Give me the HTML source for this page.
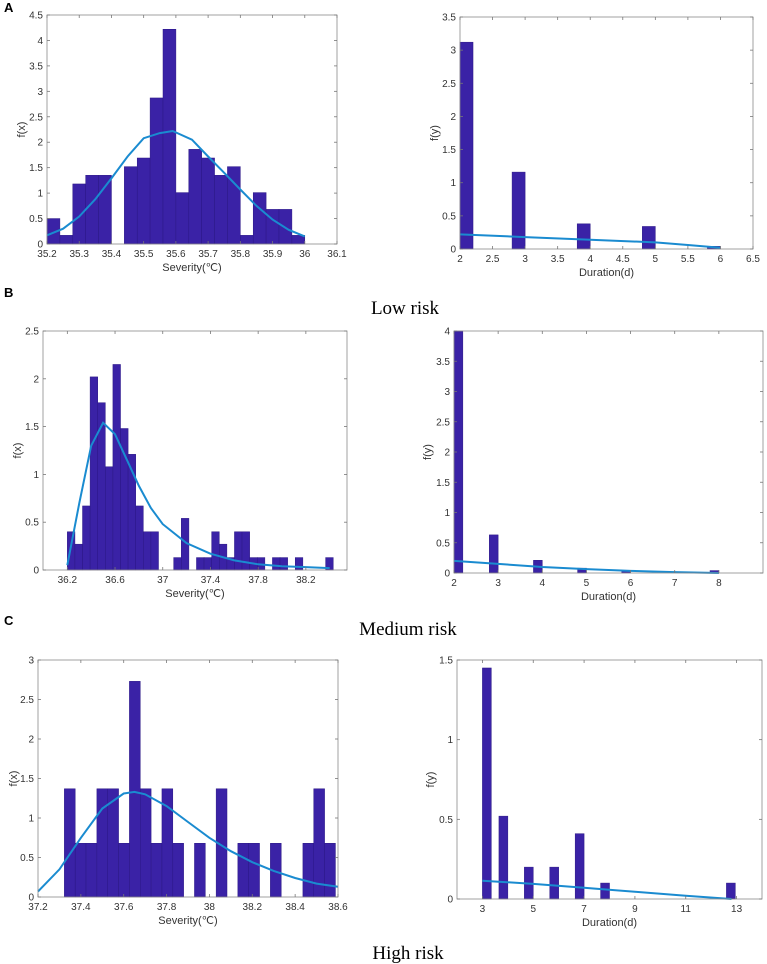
<!DOCTYPE html>
<html><head><meta charset="utf-8">
<style>
html,body{margin:0;padding:0;background:#fff;}
svg{display:block;}
text{font-family:"Liberation Sans",sans-serif;}
</style></head>
<body>
<svg id="fig" width="767" height="964" viewBox="0 0 767 964" xmlns="http://www.w3.org/2000/svg">
<text x="4" y="12" font-size="13" font-weight="bold" fill="#000">A</text>
<text x="4" y="297" font-size="13" font-weight="bold" fill="#000">B</text>
<text x="4" y="625" font-size="13" font-weight="bold" fill="#000">C</text>
<text x="405" y="314" font-size="19" text-anchor="middle" style="font-family:'Liberation Serif',serif">Low risk</text>
<text x="408" y="635" font-size="19" text-anchor="middle" style="font-family:'Liberation Serif',serif">Medium risk</text>
<text x="408" y="959" font-size="19" text-anchor="middle" style="font-family:'Liberation Serif',serif">High risk</text>
</svg>
<script>
// ---- Panel A left (Low risk severity) ----
const aSevXTicks = [35.2,35.3,35.4,35.5,35.6,35.7,35.8,35.9,36,36.1];
const aSevYTicks = [0,0.5,1,1.5,2,2.5,3,3.5,4,4.5];
const aSevBinStart = [35.2];
const aSevBinWidth = [0.04];
const aSevHeights = [0.5,0.17,1.18,1.35,1.35,0,1.52,1.69,2.87,4.22,1.01,1.86,1.69,1.35,1.52,0.17,1.01,0.68,0.68,0.17];
const aSevCurveX = [35.2,35.25,35.3,35.35,35.4,35.45,35.5,35.55,35.59,35.65,35.7,35.75,35.8,35.85,35.9,35.95,36.0];
const aSevCurveY = [0.17,0.3,0.54,0.88,1.29,1.72,2.08,2.18,2.22,2.05,1.72,1.4,1.07,0.75,0.48,0.28,0.15];
// ---- Panel A right (Low risk duration) ----
const aDurXTicks = [2,2.5,3,3.5,4,4.5,5,5.5,6,6.5];
const aDurYTicks = [0,0.5,1,1.5,2,2.5,3,3.5];
const aDurLefts = [2,2.8,3.8,4.8,5.8];
const aDurWidth = [0.2];
const aDurHeights = [3.12,1.16,0.38,0.34,0.04];
const aDurCurveX = [2,3,4,5,5.5,6];
const aDurCurveY = [0.22,0.18,0.14,0.1,0.06,0.02];
// ---- Panel B left (Medium risk severity) ----
const bSevXTicks = [36.2,36.6,37,37.4,37.8,38.2];
const bSevYTicks = [0,0.5,1,1.5,2,2.5];
const bSevBinStart = [36.2];
const bSevBinWidth = [0.0637];
const bSevHeights = [0.4,0.27,0.67,2.02,1.75,1.08,2.15,1.48,1.21,0.67,0.4,0.4,0,0,0.13,0.54,0,0.13,0.13,0.4,0.27,0.13,0.4,0.4,0.13,0.13,0,0.13,0.13,0,0.13,0,0,0,0.13];
const bSevCurveX = [36.2,36.3,36.4,36.5,36.6,36.7,36.8,36.9,37.0,37.2,37.4,37.6,37.8,38.0,38.2,38.4];
const bSevCurveY = [0.05,0.7,1.3,1.54,1.42,1.15,0.88,0.65,0.48,0.28,0.17,0.1,0.06,0.04,0.03,0.02];
// ---- Panel B right (Medium risk duration) ----
const bDurXTicks = [2,3,4,5,6,7,8];
const bDurYTicks = [0,0.5,1,1.5,2,2.5,3,3.5,4];
const bDurLefts = [2,2.8,3.8,4.8,5.8,7.8];
const bDurWidth = [0.2];
const bDurHeights = [4.0,0.63,0.21,0.08,0.03,0.04];
const bDurCurveX = [2,3,4,5,6,7,8];
const bDurCurveY = [0.2,0.15,0.1,0.065,0.035,0.015,0.0];
// ---- Panel C left (High risk severity) ----
const cSevXTicks = [37.2,37.4,37.6,37.8,38,38.2,38.4,38.6];
const cSevYTicks = [0,0.5,1,1.5,2,2.5,3];
const cSevBinStart = [37.323];
const cSevBinWidth = [0.0506];
const cSevHeights = [1.37,0.68,0.68,1.37,1.37,0.68,2.73,1.37,0.68,1.37,0.68,0,0.68,0,1.37,0,0.68,0.68,0,0.68,0,0,0.68,1.37,0.68];
const cSevCurveX = [37.2,37.3,37.4,37.5,37.6,37.65,37.7,37.8,37.9,38.0,38.1,38.2,38.3,38.4,38.5,38.6];
const cSevCurveY = [0.07,0.35,0.75,1.12,1.31,1.33,1.3,1.15,0.95,0.75,0.58,0.44,0.33,0.24,0.17,0.13];
// ---- Panel C right (High risk duration) ----
const cDurXTicks = [3,5,7,9,11,13];
const cDurYTicks = [0,0.5,1,1.5];
const cDurLefts = [3,3.65,4.65,5.65,6.65,7.65,12.6];
const cDurWidth = [0.35];
const cDurHeights = [1.45,0.52,0.2,0.2,0.41,0.1,0.1];
const cDurCurveX = [3,5,7,9,11,12.8];
const cDurCurveY = [0.115,0.095,0.07,0.045,0.02,0.0];

const NS = 'http://www.w3.org/2000/svg';
const svg = document.getElementById('fig');
function mk(tag, attrs, parent){
  const e = document.createElementNS(NS, tag);
  for (const k in attrs) e.setAttribute(k, attrs[k]);
  (parent||svg).appendChild(e);
  return e;
}
function panel(cfg){
  const g = mk('g', {});
  
  
  const [L,T,R,B] = cfg.box;
  const sx = v => L + (v - cfg.xlim[0]) / (cfg.xlim[1] - cfg.xlim[0]) * (R - L);
  const sy = v => B - (v - cfg.ylim[0]) / (cfg.ylim[1] - cfg.ylim[0]) * (B - T);
  // bars
  const bg = mk('g', {}, g);
  
  
  cfg.lefts.forEach((lx, i) => {
    const h = cfg.heights[i];
    if (!(h > 0)) return;
    const x0 = sx(lx), x1 = sx(lx + cfg.width);
    const y0 = sy(Math.min(h, cfg.ylim[1]));
    const r = mk('rect', {x:x0, y:y0, width:Math.max(0.5,x1-x0), height:B-y0, fill:'#3a22a6', stroke:'#2b1785', 'stroke-width':0.5}, bg);
    
    
  });
  // curve
  const d = cfg.cx.map((x,i) => (i?'L':'M') + sx(x).toFixed(1) + ',' + sy(cfg.cy[i]).toFixed(1)).join(' ');
  const p = mk('path', {d:d, fill:'none', stroke:'#1a8bd0', 'stroke-width':2}, g);
  
  
  // box
  const bx = mk('rect', {x:L, y:T, width:R-L, height:B-T, fill:'none', stroke:'#8a8a8a', 'stroke-width':0.8}, g);
  
  
  // x ticks
  cfg.xticks.forEach(v => {
    const x = sx(v);
    mk('line', {x1:x, x2:x, y1:B, y2:B-3, stroke:'#777', 'stroke-width':0.8}, g);
    mk('line', {x1:x, x2:x, y1:T, y2:T+3, stroke:'#777', 'stroke-width':0.8}, g);
    const t = mk('text', {x:x, y:B+13, 'font-size':10, fill:'#333', 'text-anchor':'middle'}, g);
    t.textContent = String(v);
    
    
  });
  cfg.yticks.forEach(v => {
    const y = sy(v);
    mk('line', {x1:L, x2:L+3, y1:y, y2:y, stroke:'#777', 'stroke-width':0.8}, g);
    mk('line', {x1:R, x2:R-3, y1:y, y2:y, stroke:'#777', 'stroke-width':0.8}, g);
    const t = mk('text', {x:L-4, y:y+3.5, 'font-size':10, fill:'#333', 'text-anchor':'end'}, g);
    t.textContent = String(v);
    
    
  });
  const xl = mk('text', {x:(L+R)/2, y:B+27, 'font-size':11, fill:'#333', 'text-anchor':'middle'}, g);
  xl.textContent = cfg.xlabel;
  
  
  const cy = (T+B)/2;
  const yl = mk('text', {x:cfg.ylx, y:cy, 'font-size':11, fill:'#333', 'text-anchor':'middle', transform:'rotate(-90 '+cfg.ylx+' '+cy+')'}, g);
  yl.textContent = cfg.ylabel;
  
  
}
function binLefts(start, w, n){ const a=[]; for(let i=0;i<n;i++) a.push(start + i*w); return a; }

panel({name:'low-risk-severity-chart', box:[47,15,337,244], xlim:[35.2,36.1], ylim:[0,4.5], xticks:aSevXTicks, yticks:aSevYTicks,
  lefts:binLefts(aSevBinStart[0], aSevBinWidth[0], aSevHeights.length), width:aSevBinWidth[0], heights:aSevHeights,
  cx:aSevCurveX, cy:aSevCurveY, xlabel:'Severity(\u2103)', ylabel:'f(x)', ylx:25});
panel({name:'low-risk-duration-chart', box:[460,17,753,249], xlim:[2,6.5], ylim:[0,3.5], xticks:aDurXTicks, yticks:aDurYTicks,
  lefts:aDurLefts, width:aDurWidth[0], heights:aDurHeights, cx:aDurCurveX, cy:aDurCurveY, xlabel:'Duration(d)', ylabel:'f(y)', ylx:438});
panel({name:'medium-risk-severity-chart', box:[43,331,347,570], xlim:[35.996,38.545], ylim:[0,2.5], xticks:bSevXTicks, yticks:bSevYTicks,
  lefts:binLefts(bSevBinStart[0], bSevBinWidth[0], bSevHeights.length), width:bSevBinWidth[0], heights:bSevHeights,
  cx:bSevCurveX, cy:bSevCurveY, xlabel:'Severity(\u2103)', ylabel:'f(x)', ylx:21});
panel({name:'medium-risk-duration-chart', box:[454,331,763,573], xlim:[2,9], ylim:[0,4], xticks:bDurXTicks, yticks:bDurYTicks,
  lefts:bDurLefts, width:bDurWidth[0], heights:bDurHeights, cx:bDurCurveX, cy:bDurCurveY, xlabel:'Duration(d)', ylabel:'f(y)', ylx:431});
panel({name:'high-risk-severity-chart', box:[38,660,338,897], xlim:[37.2,38.6], ylim:[0,3], xticks:cSevXTicks, yticks:cSevYTicks,
  lefts:binLefts(cSevBinStart[0], cSevBinWidth[0], cSevHeights.length), width:cSevBinWidth[0], heights:cSevHeights,
  cx:cSevCurveX, cy:cSevCurveY, xlabel:'Severity(\u2103)', ylabel:'f(x)', ylx:17});
panel({name:'high-risk-duration-chart', box:[457,660,762,899], xlim:[2,14], ylim:[0,1.5], xticks:cDurXTicks, yticks:cDurYTicks,
  lefts:cDurLefts, width:cDurWidth[0], heights:cDurHeights, cx:cDurCurveX, cy:cDurCurveY, xlabel:'Duration(d)', ylabel:'f(y)', ylx:434});
</script>
</body></html>
